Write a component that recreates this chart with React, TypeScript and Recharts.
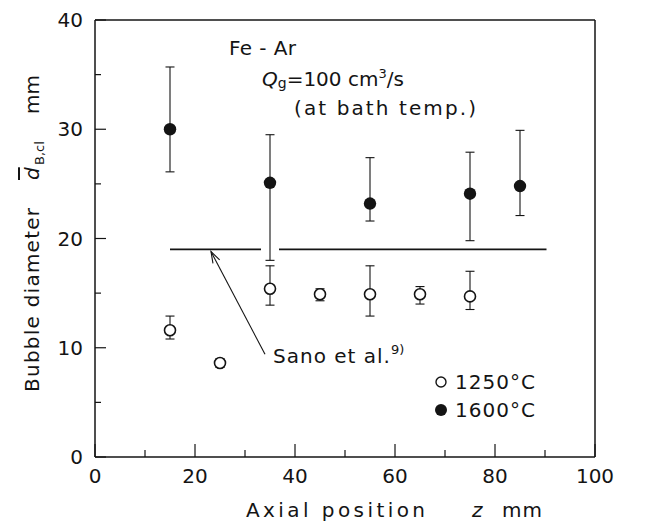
import React from "react";
import {
  ComposedChart,
  Scatter,
  XAxis,
  YAxis,
  ErrorBar,
  ReferenceLine,
  Legend,
} from "recharts";

// 1250 °C (open circles)
const zLow = [15, 25, 35, 45, 55, 65, 75];
const dLow = [11.6, 8.6, 15.4, 14.9, 14.9, 14.9, 14.7];
const dLowMin = [10.8, 8.2, 13.9, 14.3, 12.9, 14.0, 13.5];
const dLowMax = [12.9, 9.0, 17.5, 15.4, 17.5, 15.6, 17.0];

// 1600 °C (filled circles)
const zHigh = [15, 35, 55, 75, 85];
const dHigh = [30.0, 25.1, 23.2, 24.1, 24.8];
const dHighMin = [26.1, 18.0, 21.6, 19.8, 22.1];
const dHighMax = [35.7, 29.5, 27.4, 27.9, 29.9];

// Sano et al. correlation line (broken where the label arrow meets it)
const sanoD = 19;
const sanoSegments = [
  [15, 33.2],
  [36.8, 90.3],
];
const arrowTail = { z: 34, d: 9.4 };
const arrowTip = { z: 23.2, d: 18.8 };

const xTicks = [0, 10, 20, 30, 40, 50, 60, 70, 80, 90, 100];
const yTicks = [0, 5, 10, 15, 20, 25, 30, 35, 40];

const lowRows = zLow.map((z, i) => ({
  z,
  d: dLow[i],
  err: [dLow[i] - dLowMin[i], dLowMax[i] - dLow[i]],
}));
const highRows = zHigh.map((z, i) => ({
  z,
  d: dHigh[i],
  err: [dHigh[i] - dHighMin[i], dHighMax[i] - dHigh[i]],
}));

const INK = "#141414";
const FONT = "'DejaVu Sans', sans-serif";

const XTick = (p: any) => {
  const { x, y, payload } = p;
  const v = payload.value;
  const major = v % 20 === 0;
  return (
    <g>
      <line x1={x} x2={x} y1={y} y2={y - (major ? 13 : 7)} stroke={INK} strokeWidth={1.2} />
      {major && (
        <text x={x} y={y + 26} textAnchor="middle" fontFamily={FONT} fontSize={20} fill={INK}>
          {v}
        </text>
      )}
    </g>
  );
};

const YTick = (p: any) => {
  const { x, y, payload } = p;
  const v = payload.value;
  const major = v % 10 === 0;
  return (
    <g>
      <line x1={x} x2={x + (major ? 11 : 6)} y1={y} y2={y} stroke={INK} strokeWidth={1.2} />
      {major && (
        <text x={x - 12} y={y + 7} textAnchor="end" fontFamily={FONT} fontSize={20} fill={INK}>
          {v}
        </text>
      )}
    </g>
  );
};

const OpenDot = (p: any) => (
  <circle cx={p.cx} cy={p.cy} r={5.5} fill="#fff" stroke={INK} strokeWidth={1.6} />
);
const FilledDot = (p: any) => <circle cx={p.cx} cy={p.cy} r={6.2} fill={INK} />;

const ArrowShape = (p: any) => {
  const { x1, y1, x2, y2 } = p;
  const ang = Math.atan2(y2 - y1, x2 - x1);
  const len = 12;
  const spread = 0.32;
  const a1x = x2 - len * Math.cos(ang - spread);
  const a1y = y2 - len * Math.sin(ang - spread);
  const a2x = x2 - len * Math.cos(ang + spread);
  const a2y = y2 - len * Math.sin(ang + spread);
  return (
    <g>
      <line x1={x1} y1={y1} x2={x2} y2={y2} stroke={INK} strokeWidth={1.1} />
      <polyline
        points={`${a1x},${a1y} ${x2},${y2} ${a2x},${a2y}`}
        fill="none"
        stroke={INK}
        strokeWidth={1.1}
      />
    </g>
  );
};

const LegendBox = () => (
  <div style={{ fontFamily: FONT, fontSize: 20, color: INK, lineHeight: "28px", letterSpacing: 1 }}>
    <div style={{ display: "flex", alignItems: "center" }}>
      <svg width={16} height={16} style={{ marginRight: 6 }}>
        <circle cx={8} cy={8} r={5} fill="#fff" stroke={INK} strokeWidth={1.4} />
      </svg>
      1250°C
    </div>
    <div style={{ display: "flex", alignItems: "center" }}>
      <svg width={16} height={16} style={{ marginRight: 6 }}>
        <circle cx={8} cy={8} r={6} fill={INK} />
      </svg>
      1600°C
    </div>
  </div>
);

export default function App() {
  return (
    <div style={{ position: "absolute", left: 0, top: 0, width: 659, height: 521, background: "#fff" }}>
      <ComposedChart
        width={659}
        height={521}
        margin={{ top: 20, right: 64, bottom: 34, left: 35 }}
      >
        <XAxis
          type="number"
          dataKey="z"
          domain={[0, 100]}
          ticks={xTicks}
          interval={0}
          tickLine={false}
          tickSize={0}
          tickMargin={0}
          tick={<XTick />}
          axisLine={{ stroke: INK, strokeWidth: 1.5 }}
          height={30}
        />
        <YAxis
          type="number"
          dataKey="d"
          domain={[0, 40]}
          ticks={yTicks}
          interval={0}
          tickLine={false}
          tickSize={0}
          tickMargin={0}
          tick={<YTick />}
          axisLine={{ stroke: INK, strokeWidth: 1.5 }}
          width={60}
        />
        <ReferenceLine y={40} stroke={INK} strokeWidth={1.5} />
        <ReferenceLine x={100} stroke={INK} strokeWidth={1.5} />
        {sanoSegments.map(([a, b], i) => (
          <ReferenceLine
            key={i}
            segment={[
              { x: a, y: sanoD },
              { x: b, y: sanoD },
            ]}
            stroke={INK}
            strokeWidth={1.8}
          />
        ))}
        <ReferenceLine
          segment={[
            { x: arrowTail.z, y: arrowTail.d },
            { x: arrowTip.z, y: arrowTip.d },
          ]}
          shape={<ArrowShape />}
        />
        <Scatter name="1250°C" data={lowRows} shape={<OpenDot />} isAnimationActive={false}>
          <ErrorBar dataKey="err" direction="y" width={4.5} stroke={INK} strokeWidth={1.1} isAnimationActive={false} />
        </Scatter>
        <Scatter name="1600°C" data={highRows} shape={<FilledDot />} isAnimationActive={false}>
          <ErrorBar dataKey="err" direction="y" width={4.5} stroke={INK} strokeWidth={1.1} isAnimationActive={false} />
        </Scatter>
        <Legend
          layout="vertical"
          align="center"
          verticalAlign="middle"
          content={<LegendBox />}
          wrapperStyle={{ left: 433, top: 368, width: 120 }}
        />
        {/* annotations */}
        <g fontFamily={FONT} fill={INK} fontSize={20}>
          <text x={229} y={55} textLength={67} lengthAdjust="spacing">Fe - Ar</text>
          <text x={262} y={86}>
            <tspan fontStyle="italic">Q</tspan>
            <tspan fontSize={14} dy={2}>g</tspan>
            <tspan dy={-2}>=100 cm</tspan>
            <tspan fontSize={13} dy={-8}>3</tspan>
            <tspan dy={8}>/s</tspan>
          </text>
          <text x={294} y={115} textLength={182} lengthAdjust="spacing">(at bath temp.)</text>
          <text x={273} y={363}>
            <tspan letterSpacing={1}>Sano et al.</tspan>
            <tspan fontSize={13} dy={-9}>9)</tspan>
          </text>
          <text x={246} y={517} textLength={179} lengthAdjust="spacing">Axial position</text>
          <text x={472} y={517} fontStyle="italic">z</text>
          <text x={502} y={517} letterSpacing={1}>mm</text>
          <g transform="rotate(-90)">
            <text x={-392} y={39} textLength={184} lengthAdjust="spacing">Bubble diameter</text>
            <text x={-180} y={39} fontStyle="italic" textDecoration="overline">d</text>
            <text x={-165} y={44} fontSize={13}>B,cl</text>
            <text x={-114} y={39}>mm</text>
          </g>
        </g>
      </ComposedChart>
    </div>
  );
}
